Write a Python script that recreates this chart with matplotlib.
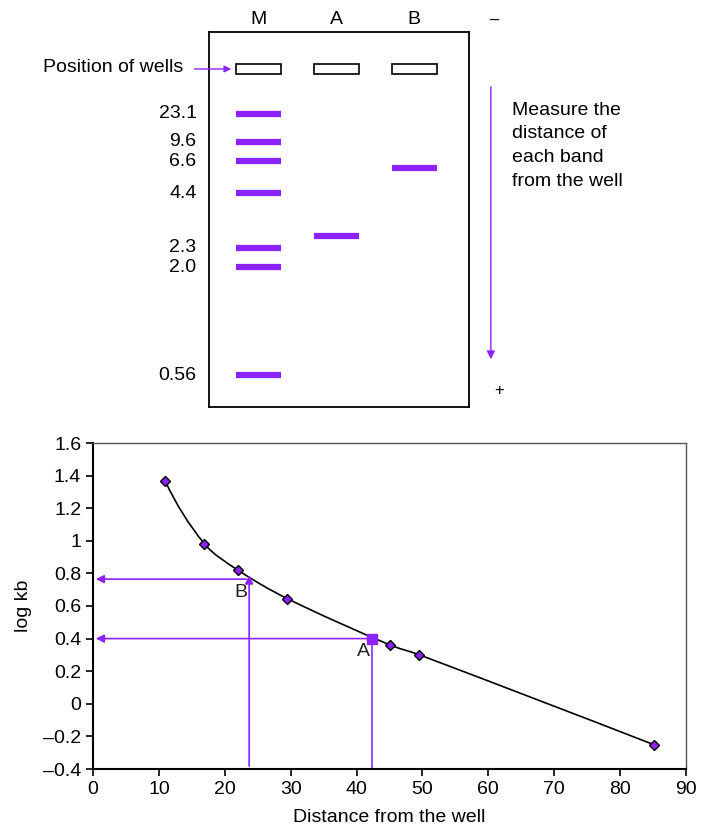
import numpy as np
import matplotlib
matplotlib.use("Agg")
import matplotlib.pyplot as plt
from matplotlib.path import Path
from matplotlib.patches import PathPatch, Rectangle

plt.rcParams['font.family'] = ['Liberation Sans', 'DejaVu Sans']

PURPLE = '#8b22ff'
FS = 14

# gel: marker sizes (kb) and band positions (distance down from gel top, gel px units)
marker_kb = ['23.1', '9.6', '6.6', '4.4', '2.3', '2.0', '0.56']
marker_pos = [82, 110, 129, 161, 216, 235, 343]
lanes = ['M', 'A', 'B']
sample_pos = {'A': 204, 'B': 136}

# standard curve
dist = [11.0, 16.9, 22.0, 29.5, 45.0, 49.5, 85.2]
logkb = [1.364, 0.982, 0.820, 0.645, 0.362, 0.301, -0.252]
dist_A, log_A = 42.3, 0.40
dist_B, log_B = 23.7, 0.765

fig = plt.figure(figsize=(7.02, 8.33), dpi=100)

# ---------------- gel ----------------
gel = fig.add_axes([209/702, 1 - 407/833, 260/702, 375/833])
gel.set_xlim(-0.63, 2.70)
gel.set_ylim(375, 0)
gel.set_xticks([])
gel.set_yticks([])
for s in gel.spines.values():
    s.set_linewidth(1.3)

bw = 0.58
for i, name in enumerate(lanes):
    gel.text(i, -13, name, ha='center', va='center', fontsize=FS)
    gel.add_patch(Rectangle((i - bw/2, 32), bw, 10, fill=False, lw=1.2, ec='black'))
gel.hlines(marker_pos, -bw/2, bw/2, color=PURPLE, lw=4.5)
for i, name in enumerate(lanes[1:], start=1):
    gel.hlines(sample_pos[name], i - bw/2, i + bw/2, color=PURPLE, lw=4.5)
for kb, y in zip(marker_kb, marker_pos):
    gel.text(-0.79, y, kb, ha='right', va='center', fontsize=FS)

gel.text(-0.96, 36, 'Position of wells', ha='right', va='center', fontsize=FS)
gel.annotate('', xy=(-0.31, 37), xytext=(-0.85, 37), annotation_clip=False,
             arrowprops=dict(arrowstyle='-|>', color=PURPLE, lw=1, mutation_scale=10))
gel.annotate('', xy=(2.98, 330), xytext=(2.98, 52), annotation_clip=False,
             arrowprops=dict(arrowstyle='-|>', color=PURPLE, lw=1, mutation_scale=12))
gel.text(3.25, 70, 'Measure the\ndistance of\neach band\nfrom the well', ha='left', va='top',
         fontsize=FS, linespacing=1.5)
gel.text(3.03, -12, '–', ha='center', va='center', fontsize=12)
gel.text(3.08, 358, '+', ha='center', va='center', fontsize=12)

# ---------------- standard curve ----------------
ax = fig.add_axes([93/702, 64/833, 593/702, 326/833])
ax.set_xlim(0, 90)
ax.set_ylim(-0.4, 1.6)
ax.set_xticks(range(0, 91, 10))
ax.set_yticks(np.arange(-0.4, 1.61, 0.2))
ax.set_yticklabels(['–0.4', '–0.2', '0', '0.2', '0.4', '0.6', '0.8', '1', '1.2', '1.4', '1.6'])
ax.tick_params(labelsize=FS, direction='out', length=5, width=1.2)
ax.spines['left'].set_linewidth(1.5)
ax.spines['bottom'].set_linewidth(1.5)
ax.spines['top'].set_linewidth(1.0)
ax.spines['right'].set_linewidth(1.0)
ax.spines['top'].set_color('#555555')
ax.spines['right'].set_color('#555555')
ax.set_xlabel('Distance from the well', fontsize=FS, labelpad=8)
ax.set_ylabel('log kb', fontsize=FS, labelpad=8)

# smooth line through the points: bezier in screen space, handles = chord/3
D = ax.transData.transform(np.column_stack([dist, logkb]))
n = len(D)
seg = np.linalg.norm(np.diff(D, axis=0), axis=1)
U = np.zeros_like(D)
for i in range(1, n - 1):
    v = D[i+1] - D[i-1]
    U[i] = v / np.linalg.norm(v)
for i0, i1, j in [(0, 1, 1), (n - 2, n - 1, n - 2)]:
    c = (D[i1] - D[i0]) / np.linalg.norm(D[i1] - D[i0])
    U[i0 if j == 1 else i1] = 2 * np.dot(c, U[j]) * c - U[j]
verts = [D[0]]
codes = [Path.MOVETO]
for i in range(n - 1):
    verts += [D[i] + U[i] * seg[i] / 3, D[i+1] - U[i+1] * seg[i] / 3, D[i+1]]
    codes += [Path.CURVE4] * 3
verts = ax.transData.inverted().transform(np.array(verts))
ax.add_patch(PathPatch(Path(verts, codes), fill=False, lw=1.2, ec='black', zorder=3))
ax.plot(dist, logkb, ls='none', marker='D', ms=5.5, mfc=PURPLE, mec='black', mew=1.0, zorder=4)

# reading off A and B
ax.plot([dist_A, dist_A], [-0.4, log_A], color=PURPLE, lw=1.2, zorder=2)
ax.annotate('', xy=(0, log_A), xytext=(dist_A, log_A),
            arrowprops=dict(arrowstyle='-|>', color=PURPLE, lw=1.2, mutation_scale=12))
ax.plot(dist_A, log_A, marker='s', ms=7, color=PURPLE, zorder=5)
ax.text(dist_A - 0.2, log_A - 0.03, 'A', ha='right', va='top', fontsize=FS, color='#222222')

ax.annotate('', xy=(dist_B, log_B + 0.04), xytext=(dist_B, -0.4),
            arrowprops=dict(arrowstyle='-|>', color=PURPLE, lw=1.2, mutation_scale=12))
ax.annotate('', xy=(0, log_B), xytext=(dist_B, log_B),
            arrowprops=dict(arrowstyle='-|>', color=PURPLE, lw=1.2, mutation_scale=12))
ax.text(dist_B - 0.3, log_B - 0.03, 'B', ha='right', va='top', fontsize=FS, color='#222222')

fig.savefig('out.png', dpi=100)
